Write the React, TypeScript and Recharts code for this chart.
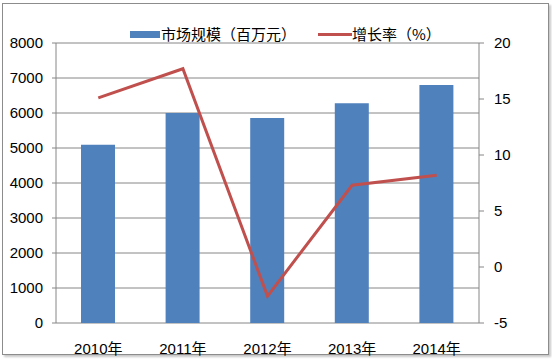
import React from "react";
import { Bar, CartesianGrid, ComposedChart, Line, XAxis, YAxis } from "recharts";

const years = ["2010年", "2011年", "2012年", "2013年", "2014年"];
const marketSize = [5090, 6000, 5860, 6280, 6800];
const growthRate = [15.1, 17.7, -2.6, 7.3, 8.2];
const leftTicks = [0, 1000, 2000, 3000, 4000, 5000, 6000, 7000, 8000];
const rightTicks = [-5, 0, 5, 10, 15, 20];
const boundaryTicks = [0, 1, 2, 3, 4, 5];

const BLUE = "#4F81BD";
const RED = "#C0504D";
const AXIS = "#868686";
const FONT = '"Liberation Sans", "Noto Sans CJK SC", sans-serif';
const CJK = '"Noto Sans CJK SC", sans-serif';

const data = years.map((y, i) => ({ year: y, size: marketSize[i], rate: growthRate[i] }));

function LegendBox() {
  return (
    <div style={{ position: "absolute", left: 0, top: 24, width: 552, height: 20, fontFamily: CJK, fontSize: 15, color: "#000" }}>
      <span style={{ position: "absolute", left: 130, top: 7, width: 30, height: 7, background: BLUE }} />
      <span style={{ position: "absolute", left: 161, top: 0, lineHeight: "20px", whiteSpace: "nowrap" }}>市场规模（百万元）</span>
      <span style={{ position: "absolute", left: 318, top: 9, width: 34, height: 3, background: RED }} />
      <span style={{ position: "absolute", left: 352, top: 0, lineHeight: "20px", whiteSpace: "nowrap" }}>增长率（%）</span>
    </div>
  );
}

export default function App() {
  return (
    <div style={{ position: "fixed", left: 0, top: 0, width: 552, height: 363, background: "#fff" }}>
      <div
        style={{
          position: "absolute",
          left: 2,
          top: 3,
          width: 545,
          height: 350,
          border: "1px solid #8c8c8c",
          boxShadow: "2px 2px 2px #c8c8c8",
        }}
      />
      <ComposedChart
        width={552}
        height={363}
        data={data}
        margin={{ top: 43, right: 23, bottom: 10, left: 0 }}
        style={{ position: "absolute", left: 0, top: 0, fontFamily: FONT }}
      >
        <CartesianGrid vertical={false} stroke={AXIS} yAxisId="left" />
        <XAxis
          xAxisId="edges"
          type="number"
          domain={[0, 5]}
          ticks={boundaryTicks}
          tickFormatter={() => ""}
          height={0}
          axisLine={{ stroke: AXIS }}
          tickLine={{ stroke: AXIS }}
          tickSize={5}
        />
        <XAxis
          dataKey="year"
          height={30}
          axisLine={false}
          tickLine={false}
          tick={{ fill: "#000", fontSize: 15 }}
          tickMargin={14}
        />
        <YAxis
          yAxisId="left"
          domain={[0, 8000]}
          ticks={leftTicks}
          width={56}
          axisLine={{ stroke: AXIS }}
          tickLine={{ stroke: AXIS }}
          tickSize={4}
          tickMargin={9}
          tick={{ fill: "#000", fontSize: 15 }}
        />
        <YAxis
          yAxisId="right"
          orientation="right"
          domain={[-5, 20]}
          ticks={rightTicks}
          width={50}
          axisLine={{ stroke: AXIS }}
          tickLine={{ stroke: AXIS }}
          tickSize={5}
          tickMargin={10}
          tick={{ fill: "#000", fontSize: 15 }}
        />
        <Bar yAxisId="left" dataKey="size" fill={BLUE} barSize={34} isAnimationActive={false} />
        <Line
          yAxisId="right"
          dataKey="rate"
          stroke={RED}
          strokeWidth={3}
          dot={false}
          activeDot={false}
          isAnimationActive={false}
        />
      </ComposedChart>
      <LegendBox />
    </div>
  );
}
